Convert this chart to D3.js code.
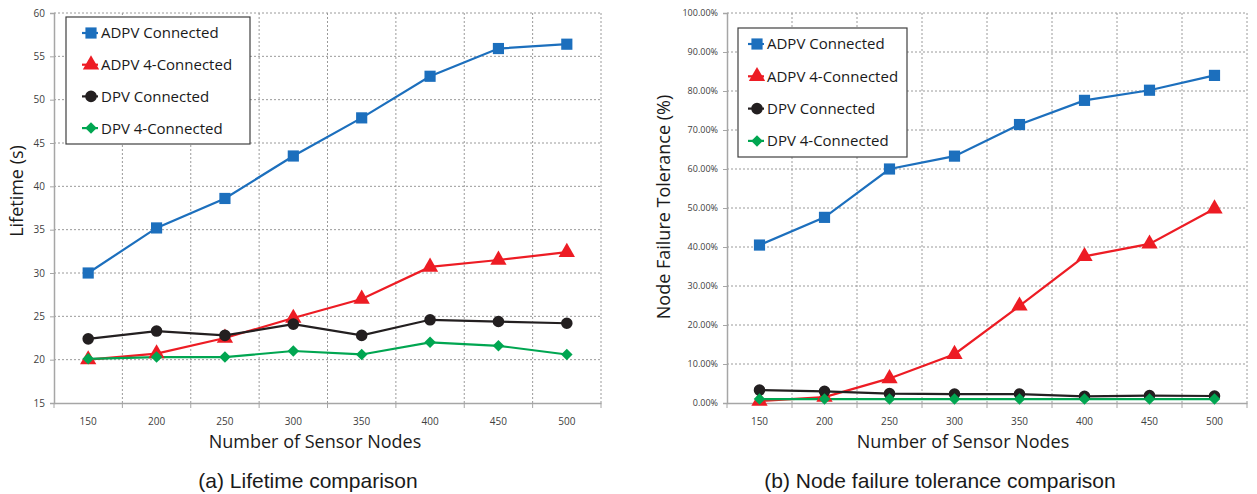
<!DOCTYPE html>
<html><head><meta charset="utf-8">
<script src="https://cdn.jsdelivr.net/npm/d3@7"></script>
<style>body{margin:0;background:#fff}svg{display:block}</style>
</head><body>
<svg id="c" width="1257" height="494"></svg>
<script>
const categories = ["150","200","250","300","350","400","450","500"];
const seriesNames = ["ADPV Connected","ADPV 4-Connected","DPV Connected","DPV 4-Connected"];
const lifeADPVConn = [30.0,35.2,38.6,43.5,47.9,52.7,55.9,56.4];
const lifeADPV4 = [20.0,20.7,22.5,24.8,27.0,30.7,31.5,32.4];
const lifeDPVConn = [22.4,23.3,22.8,24.1,22.8,24.6,24.4,24.2];
const lifeDPV4 = [20.1,20.3,20.3,21.0,20.6,22.0,21.6,20.6];
const tolADPVConn = [40.5,47.6,60.0,63.3,71.4,77.6,80.2,84.0];
const tolADPV4 = [0.5,1.5,6.3,12.5,24.9,37.6,40.8,49.8];
const tolDPVConn = [3.3,3.0,2.4,2.3,2.3,1.7,1.9,1.8];
const tolDPV4 = [1.0,1.0,1.0,1.0,1.0,1.0,1.0,1.0];
const lifeTicks = [15,20,25,30,35,40,45,50,55,60];
const tolTicks = [0,10,20,30,40,50,60,70,80,90,100];

const colors = ["#1c6fbd","#ed1c24","#231f20","#00a651"];
const diamond = { draw(ctx, size){ const r = Math.sqrt(size/2); ctx.moveTo(0,-r); ctx.lineTo(r,0); ctx.lineTo(0,r); ctx.lineTo(-r,0); ctx.closePath(); } };
const symbols = [d3.symbolSquare, d3.symbolTriangle, d3.symbolCircle, diamond];
const symSizes = [125, 115, 105, 66];

const svg = d3.select("#c");
const font = "'Open Sans', 'Noto Sans', sans-serif";

function drawChart(cfg){
  const g = svg.append("g");
  const x = d3.scaleBand().domain(categories).range([cfg.x0, cfg.x1]);
  const y = d3.scaleLinear().domain(cfg.ydom).range([cfg.y1, cfg.y0]);
  g.append("g").selectAll("line").data(cfg.ticks.slice(1)).join("line")
    .attr("x1", cfg.x0).attr("x2", cfg.x1)
    .attr("y1", d=>y(d)).attr("y2", d=>y(d))
    .attr("stroke","#9a9a9a").attr("stroke-width",1).attr("stroke-dasharray","2,2");
  const bounds = categories.map(c=>x(c)+x.bandwidth());
  g.append("g").selectAll("line").data(bounds).join("line")
    .attr("x1", d=>d).attr("x2", d=>d)
    .attr("y1", cfg.y0).attr("y2", cfg.y1)
    .attr("stroke","#9a9a9a").attr("stroke-width",1).attr("stroke-dasharray","2,2");
  const ya = d3.axisLeft(y).tickValues(cfg.ticks).tickSize(4).tickPadding(5).tickFormat(cfg.fmt);
  const yg = g.append("g").attr("transform",`translate(${cfg.x0},0)`).call(ya);
  yg.select(".domain").attr("stroke","#a6a6a6").attr("stroke-width",1.5);
  yg.selectAll(".tick line").attr("stroke","#a6a6a6");
  yg.selectAll("text").attr("font-family",font).attr("font-size",cfg.tickFs).attr("fill","#404040");
  const xa = d3.axisBottom(x).tickSize(0).tickPadding(15);
  const xg = g.append("g").attr("transform",`translate(0,${cfg.y1})`).call(xa);
  xg.select(".domain").attr("stroke","#a6a6a6").attr("stroke-width",1.5);
  xg.selectAll("text").attr("font-family",font).attr("font-size",10).attr("fill","#404040");
  g.append("g").selectAll("line").data([cfg.x0, ...bounds]).join("line")
    .attr("x1",d=>d).attr("x2",d=>d).attr("y1",cfg.y1).attr("y2",cfg.y1+5)
    .attr("stroke","#a6a6a6");
  cfg.series.forEach((vals,i)=>{
    const line = d3.line().x((d,j)=>x(categories[j])+x.bandwidth()/2).y(d=>y(d));
    g.append("path").datum(vals).attr("d",line).attr("fill","none")
      .attr("stroke",colors[i]).attr("stroke-width",2.2);
  });
  cfg.series.forEach((vals,i)=>{
    g.append("g").selectAll("path").data(vals).join("path")
      .attr("transform",(d,j)=>`translate(${x(categories[j])+x.bandwidth()/2},${y(d)})`)
      .attr("d", d3.symbol().type(symbols[i]).size(symSizes[i]))
      .attr("fill",colors[i]);
  });
  const L = cfg.legend;
  g.append("rect").attr("x",L.x).attr("y",L.y).attr("width",L.w).attr("height",L.h)
    .attr("fill","#fff").attr("stroke","#404040").attr("stroke-width",1.2);
  seriesNames.forEach((n,i)=>{
    const yy = L.y + L.first + i*L.step;
    g.append("line").attr("x1",L.x+L.lx).attr("x2",L.x+L.lx+16).attr("y1",yy).attr("y2",yy)
      .attr("stroke",colors[i]).attr("stroke-width",2.2);
    g.append("path").attr("transform",`translate(${L.x+L.lx+9},${yy})`)
      .attr("d",d3.symbol().type(symbols[i]).size(symSizes[i])).attr("fill",colors[i]);
    g.append("text").attr("x",L.x+L.lx+19).attr("y",yy).attr("dy","0.36em")
      .attr("font-family",font).attr("font-size",15).attr("fill","#1a1a1a").text(n);
  });
  g.append("text").attr("x",cfg.xtx).attr("y",448).attr("text-anchor","middle")
    .attr("font-family",font).attr("font-size",18).attr("fill","#1a1a1a").text("Number of Sensor Nodes");
  g.append("text").attr("transform",`translate(${cfg.ytx},${cfg.yty}) rotate(-90)`)
    .attr("text-anchor","middle").attr("font-family",font).attr("font-size",18).attr("fill","#1a1a1a").text(cfg.ytitle);
  g.append("text").attr("x",cfg.capx).attr("y",488).attr("text-anchor","middle")
    .attr("font-family","'Liberation Sans', Arial, sans-serif").attr("font-size",21).attr("fill","#1a1a1a").text(cfg.caption);
}

drawChart({x0:54,x1:601,y0:13,y1:403,ydom:[15,60],ticks:lifeTicks,fmt:d=>d,tickFs:10,
  series:[lifeADPVConn,lifeADPV4,lifeDPVConn,lifeDPV4],
  legend:{x:66,y:17,w:184,h:127,first:16,step:31.7,lx:16},
  xtx:315, ytitle:"Lifetime (s)", ytx:23, yty:191, caption:"(a)  Lifetime comparison", capx:308});
drawChart({x0:727,x1:1247,y0:13,y1:403,ydom:[0,100],ticks:tolTicks,fmt:d=>d.toFixed(2)+"%",tickFs:9,
  series:[tolADPVConn,tolADPV4,tolDPVConn,tolDPV4],
  legend:{x:738,y:28,w:169,h:129,first:16,step:32.3,lx:10},
  xtx:963, ytitle:"Node Failure Tolerance (%)", ytx:670, yty:207, caption:"(b)  Node failure tolerance comparison", capx:940});
</script>
</body></html>
